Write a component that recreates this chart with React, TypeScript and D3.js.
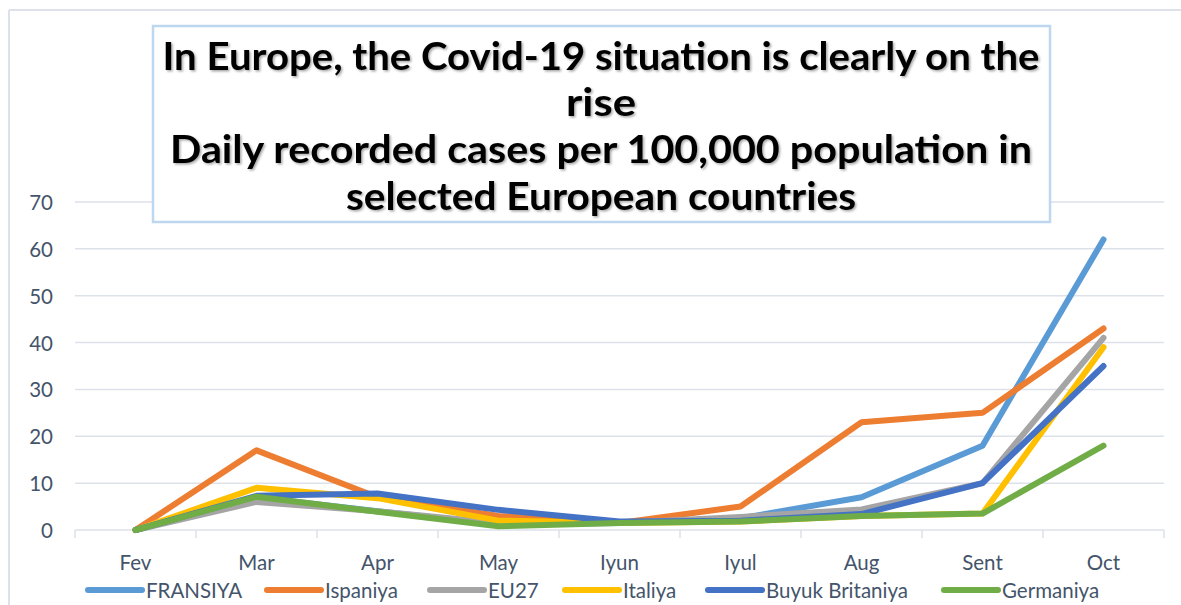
import React from "react";
import * as d3 from "d3";

const categories = ["Fev", "Mar", "Apr", "May", "Iyun", "Iyul", "Aug", "Sent", "Oct"];
const seriesNames = ["FRANSIYA", "Ispaniya", "EU27", "Italiya", "Buyuk Britaniya", "Germaniya"];
const fransiya = [0, 7, 4, 1.2, 1.5, 2.5, 7, 18, 62];
const ispaniya = [0, 17, 7, 3, 1.5, 5, 23, 25, 43];
const eu27 = [0, 6, 4, 1.5, 1.5, 2.8, 4.4, 10, 41];
const italiya = [0, 9, 6.8, 2, 1.5, 1.8, 3, 3.5, 39];
const buyukBritaniya = [0, 7.3, 7.8, 4.3, 1.8, 2, 3.4, 10, 35];
const germaniya = [0, 7.1, 3.9, 0.8, 1.5, 1.8, 3, 3.5, 18];
const yTicks = [0, 10, 20, 30, 40, 50, 60, 70];
const titleLines = [
  "In Europe, the Covid-19 situation is clearly on the",
  "rise",
  "Daily recorded cases per 100,000 population in",
  "selected European countries",
];

const seriesValues = [fransiya, ispaniya, eu27, italiya, buyukBritaniya, germaniya];
const colors = ["#5B9BD5", "#ED7D31", "#A5A5A5", "#FFC000", "#4472C4", "#70AD47"];

const W = 1181;
const H = 605;
const FONT = "Lato, 'Open Sans', sans-serif";
const TEXT = "#44546A";
const GRID = "#DDE2EA";
const LABEL_SIZE = 20.5;

export default function App() {
  const x = d3.scaleBand<string>().domain(categories).range([75, 1164]).padding(0);
  const y = d3.scaleLinear().domain([0, 70]).range([530, 202]);
  const cx = (c: string) => (x(c) as number) + x.bandwidth() / 2;

  const line = d3
    .line<number>()
    .x((_, i) => cx(categories[i]))
    .y((v) => y(v));

  const boundaries = categories.map((c) => x(c) as number).concat([1164]);

  // legend layout: line swatch start, text start
  const legendItems = [
    { lx: 88, tx: 146 },
    { lx: 267, tx: 325 },
    { lx: 430, tx: 488 },
    { lx: 565, tx: 623 },
    { lx: 708, tx: 766 },
    { lx: 944, tx: 1002 },
  ];

  const titleLayout = [
    { y: 70, len: 877 },
    { y: 116, len: 70 },
    { y: 163, len: 862 },
    { y: 210, len: 510 },
  ];

  return (
    <svg
      width={W}
      height={H}
      style={{ position: "absolute", left: 0, top: 0, background: "#fff" }}
      fontFamily={FONT}
    >
      <defs>
        <filter id="titleShadow" x="-5%" y="-20%" width="110%" height="140%">
          <feDropShadow dx="1.5" dy="1.5" stdDeviation="0.8" floodColor="#000" floodOpacity="0.35" />
        </filter>
      </defs>
      <rect x={0} y={0} width={W} height={H} fill="#fff" />
      {/* chart frame */}
      <line x1={9} y1={10} x2={W} y2={10} stroke={GRID} strokeWidth={2} />
      <line x1={9} y1={10} x2={9} y2={H} stroke={GRID} strokeWidth={2} />

      {/* gridlines */}
      {yTicks.map((t) => (
        <line key={t} x1={75} x2={1164} y1={y(t)} y2={y(t)} stroke={GRID} strokeWidth={1.5} />
      ))}
      {boundaries.map((b, i) => (
        <line key={i} x1={b} x2={b} y1={530} y2={538} stroke={GRID} strokeWidth={1.5} />
      ))}

      {/* y labels */}
      {yTicks.map((t) => (
        <text
          key={t}
          x={53}
          y={y(t)}
          textAnchor="end"
          dominantBaseline="central"
          fontSize={LABEL_SIZE}
          fill={TEXT}
        >
          {t}
        </text>
      ))}

      {/* x labels */}
      {categories.map((c) => (
        <text
          key={c}
          x={cx(c)}
          y={562}
          textAnchor="middle"
          dominantBaseline="central"
          fontSize={LABEL_SIZE}
          fill={TEXT}
        >
          {c}
        </text>
      ))}

      {/* series */}
      {seriesValues.map((vals, i) => (
        <path
          key={seriesNames[i]}
          d={line(vals) as string}
          fill="none"
          stroke={colors[i]}
          strokeWidth={6}
          strokeLinejoin="round"
          strokeLinecap="round"
        />
      ))}

      {/* legend */}
      {seriesNames.map((n, i) => (
        <g key={n}>
          <line
            x1={legendItems[i].lx}
            x2={legendItems[i].lx + 54}
            y1={590}
            y2={590}
            stroke={colors[i]}
            strokeWidth={6}
            strokeLinecap="round"
          />
          <text x={legendItems[i].tx} y={590} dominantBaseline="central" fontSize={LABEL_SIZE} fill={TEXT}>
            {n}
          </text>
        </g>
      ))}

      {/* title box */}
      <rect x={153} y={26} width={897} height={196} fill="#fff" stroke="#BDD7EE" strokeWidth={2.5} />
      <g filter="url(#titleShadow)">
        {titleLines.map((t, i) => (
          <text
            key={i}
            x={601}
            y={titleLayout[i].y}
            textAnchor="middle"
            fontSize={39}
            fontWeight={700}
            fill="#000"
            textLength={titleLayout[i].len}
            lengthAdjust="spacingAndGlyphs"
          >
            {t}
          </text>
        ))}
      </g>
    </svg>
  );
}
